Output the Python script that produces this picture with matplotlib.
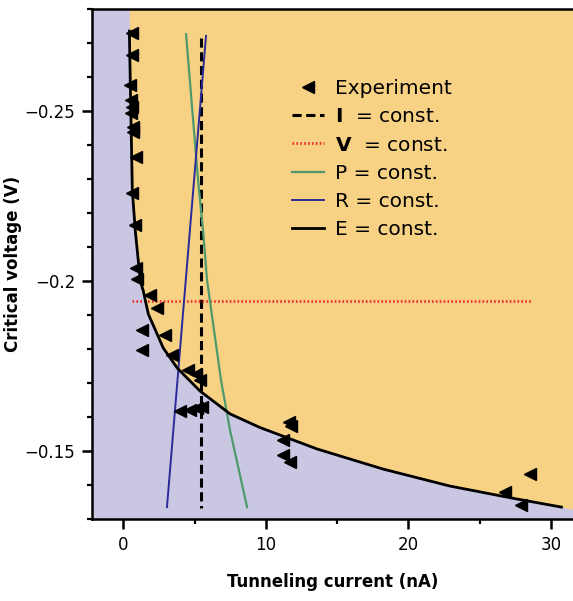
import numpy as np
import matplotlib
matplotlib.use("Agg")
import matplotlib.pyplot as plt
from matplotlib.ticker import MultipleLocator

# Experimental critical voltages (V) vs tunneling current (nA)
exp_I = [0.61, 0.61, 0.47, 0.54, 0.61, 0.54, 0.68, 0.68, 0.89, 0.61, 0.82, 0.89, 0.96,
         1.87, 2.37, 1.31, 2.92, 1.31, 3.42, 4.54, 5.10, 5.38, 3.98, 4.68, 5.17, 5.52,
         11.62, 11.76, 11.20, 11.20, 11.69, 26.77, 28.52, 27.89]
exp_V = [-0.2729, -0.2665, -0.2576, -0.2532, -0.2512, -0.2494, -0.2453, -0.2438, -0.2365,
         -0.2259, -0.2165, -0.2038, -0.2006, -0.1959, -0.1921, -0.1856, -0.1841, -0.1797,
         -0.1782, -0.1738, -0.1726, -0.1709, -0.1618, -0.1621, -0.1626, -0.1629,
         -0.1585, -0.1574, -0.1532, -0.1488, -0.1468, -0.1379, -0.1432, -0.1341]

# E = const. curve
E_I = [0.42, 0.63, 0.84, 1.12, 1.19, 1.40, 1.75, 2.80, 3.78, 5.39, 7.49, 9.59,
       13.59, 18.21, 22.90, 27.59, 30.74]
E_V = [-0.2735, -0.2265, -0.2147, -0.2029, -0.2000, -0.1971, -0.1903, -0.1803, -0.1744,
       -0.1676, -0.1609, -0.1569, -0.1506, -0.1447, -0.1397, -0.1359, -0.1335]

# P = const. curve
P_I = [4.40, 5.24, 5.59, 5.87, 6.85, 7.48, 8.68]
P_V = [-0.2726, -0.2297, -0.2150, -0.2003, -0.1709, -0.1562, -0.1335]

# R = const. line
R_I = [5.80, 3.06]
R_V = [-0.2721, -0.1335]

# I = const. line
I_const = 5.45
I_V = [-0.2715, -0.1332]

# V = const. line
V_const = -0.1941
V_I = [0.61, 28.66]

x_ticks = [0, 10, 20, 30]
y_ticks = [-0.25, -0.2, -0.15]
y_ticklabels = ["-0.25", "-0.2", "-0.15"]

xlim = (-2.2, 31.55)
ylim = (-0.13, -0.28)

purple = "#CAC7E2"
orange = "#F8D284"

fig = plt.figure(figsize=(5.73, 6.01), dpi=100)
ax = fig.add_axes([92/573, (601-519)/601, (573-92)/573, 510/601])
ax.set_facecolor(purple)
ax.set_xlim(*xlim)
ax.set_ylim(*ylim)

# orange region above E curve
slope = (E_V[-1] - E_V[-2]) / (E_I[-1] - E_I[-2])
fill_I = np.r_[E_I[0], E_I, xlim[1]]
fill_V = np.r_[ylim[1], E_V, E_V[-1] + slope * (xlim[1] - E_I[-1])]
ax.fill_between(fill_I, fill_V, ylim[1], color=orange, lw=0, zorder=0.5)

ax.plot(exp_I, exp_V, ls="none", marker="<", color="black", ms=9, label="Experiment", zorder=5)
ax.plot([I_const, I_const], I_V, color="black", lw=2.2, dashes=(3.0, 1.5),
        label=r"$\mathbf{I}$  = const.", zorder=3)
ax.plot(V_I, [V_const, V_const], color="#F03030", lw=2.0, ls=(0, (0.6, 0.8)),
        label=r"$\mathbf{V}$  = const.", zorder=3)
ax.plot(P_I, P_V, color="#4E9A6E", lw=1.6, label="P = const.", zorder=3)
ax.plot(R_I, R_V, color="#2A2A9A", lw=1.4, label="R = const.", zorder=3)
ax.plot(E_I, E_V, color="black", lw=2.0, label="E = const.", zorder=4)

ax.set_xticks(x_ticks)
ax.set_yticks(y_ticks)
ax.set_yticklabels(["\u2212" + t[1:] for t in y_ticklabels])
ax.xaxis.set_minor_locator(MultipleLocator(5))
ax.yaxis.set_minor_locator(MultipleLocator(0.01))
ax.tick_params(which="major", direction="out", length=7, width=1.8, labelsize=12, pad=5)
ax.tick_params(which="minor", direction="out", length=3.5, width=1.6)
ax.tick_params(axis="x", which="both", top=False)
ax.tick_params(axis="y", which="both", right=False)
for s in ["left", "bottom", "top"]:
    ax.spines[s].set_linewidth(1.8)
ax.spines["right"].set_visible(False)

ax.set_xlabel("Tunneling current (nA)", fontsize=12, fontweight="bold", labelpad=14)
ax.set_ylabel("Critical voltage (V)", fontsize=12, fontweight="bold", labelpad=2)

leg = ax.legend(loc="upper left", bbox_to_anchor=(0.415, 0.862), frameon=False,
                fontsize=14.5, borderpad=0, borderaxespad=0, handlelength=1.6,
                handletextpad=0.55, labelspacing=0.45)

fig.savefig("out.png", dpi=100)
